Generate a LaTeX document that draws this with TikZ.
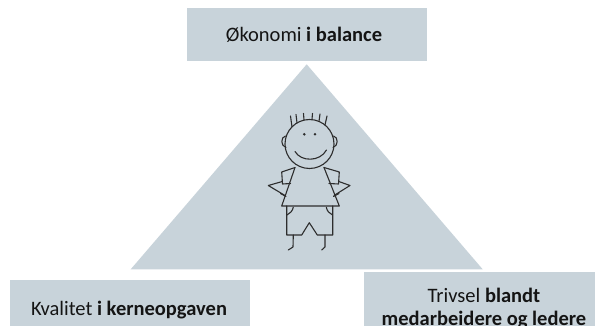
\documentclass[tikz,border=0pt]{standalone}
\usepackage{fontspec}
\setmainfont{Carlito}
\definecolor{boxcol}{RGB}{200,211,218}
\definecolor{inkcol}{RGB}{45,45,45}
\definecolor{txtcol}{RGB}{20,20,20}
\tikzset{
  boxnode/.style={fill=boxcol, draw=none, inner sep=0pt, minimum width=240pt},
  lbl/.style={text=txtcol, inner sep=0pt, anchor=base, font=\fontsize{20.5}{23}\selectfont, align=center},
  ink/.style={draw=inkcol, line width=1.1pt, line cap=round, line join=round}
}
\begin{document}
\begin{tikzpicture}[x=1pt,y=-1pt]
\useasboundingbox (0,0) rectangle (595,326);
\clip (0,0) rectangle (595,326);
% triangle
\fill[boxcol] (306.7,64.3) -- (130.7,269.3) -- (482.7,269.3) -- cycle;
% boxes
\node[boxnode, minimum height=53pt] (top) at (307,34.5) {};
\node[boxnode, minimum height=46pt] (left) at (130,303) {};
\node[boxnode, minimum height=70pt] (right) at (484,307) {};
% labels
\node[lbl] (toptxt) at (304,41.7) {Økonomi \textbf{i balance}};
\node[lbl] (lefttxt) at (129,315) {Kvalitet \textbf{i kerneopgaven}};
\node[lbl] (righttxt) at (484,325.5) {Trivsel \textbf{blandt}\\\textbf{medarbeidere og ledere}};
% stick figure
\coordinate (hc) at (309.5,144);
\draw[ink] (hc) circle (24.5);
% hair
\draw[ink] (292,126.9) -- (290.5,116);
\draw[ink] (297,122.9) -- (296,114.5);
\draw[ink] (304,120.1) -- (303.5,113.5);
\draw[ink] (312,119.6) -- (312.5,113.5);
\draw[ink] (319,121.4) -- (320,114);
\draw[ink] (325,125) -- (327,116);
% ears
\draw[ink] (285.5,136) .. controls (280.5,137) and (280.5,146) .. (286,147.5);
\draw[ink] (333.5,136) .. controls (338.5,137) and (338.5,146) .. (333,147.5);
% eyes
\fill[inkcol] (304.3,134.3) circle (1.4);
\fill[inkcol] (315,134.3) circle (1.4);
% smile
\draw[ink] (295,151.5) .. controls (301,162) and (320,162) .. (326.5,150);
% shirt
\draw[ink] (295,167.5) -- (281.7,172) -- (282.5,184) -- (290.5,183.5);
\draw[ink] (324,167.5) -- (339.3,172) -- (338.5,184) -- (329,183.5);
\draw[ink] (295,167.5) -- (281.7,206) -- (339.3,206) -- (324,167.5);
% arms
\draw[ink] (282.3,181.5) -- (268.3,185.5) -- (285,195.5);
\draw[ink] (280.5,193.5) -- (286,196.5);
\draw[ink] (338.8,181.5) -- (350,185.5) -- (334,195.5);
\draw[ink] (339,193.5) -- (333.5,196.5);
% shorts
\draw[ink] (286.7,206) -- (286.7,235) -- (301.7,235) -- (309.3,222.7) -- (317.3,235) -- (332.7,235) -- (332.7,206);
\draw[ink] (293.3,207.3) .. controls (292.5,211) and (290,213.5) .. (287,215);
\draw[ink] (326.3,207.3) .. controls (327,211) and (329.5,213.5) .. (332.5,215);
% legs
\draw[ink] (293.3,235) -- (293,247) -- (288.3,250);
\draw[ink] (325,235) -- (325,247) -- (321.7,250);
\end{tikzpicture}
\end{document}
